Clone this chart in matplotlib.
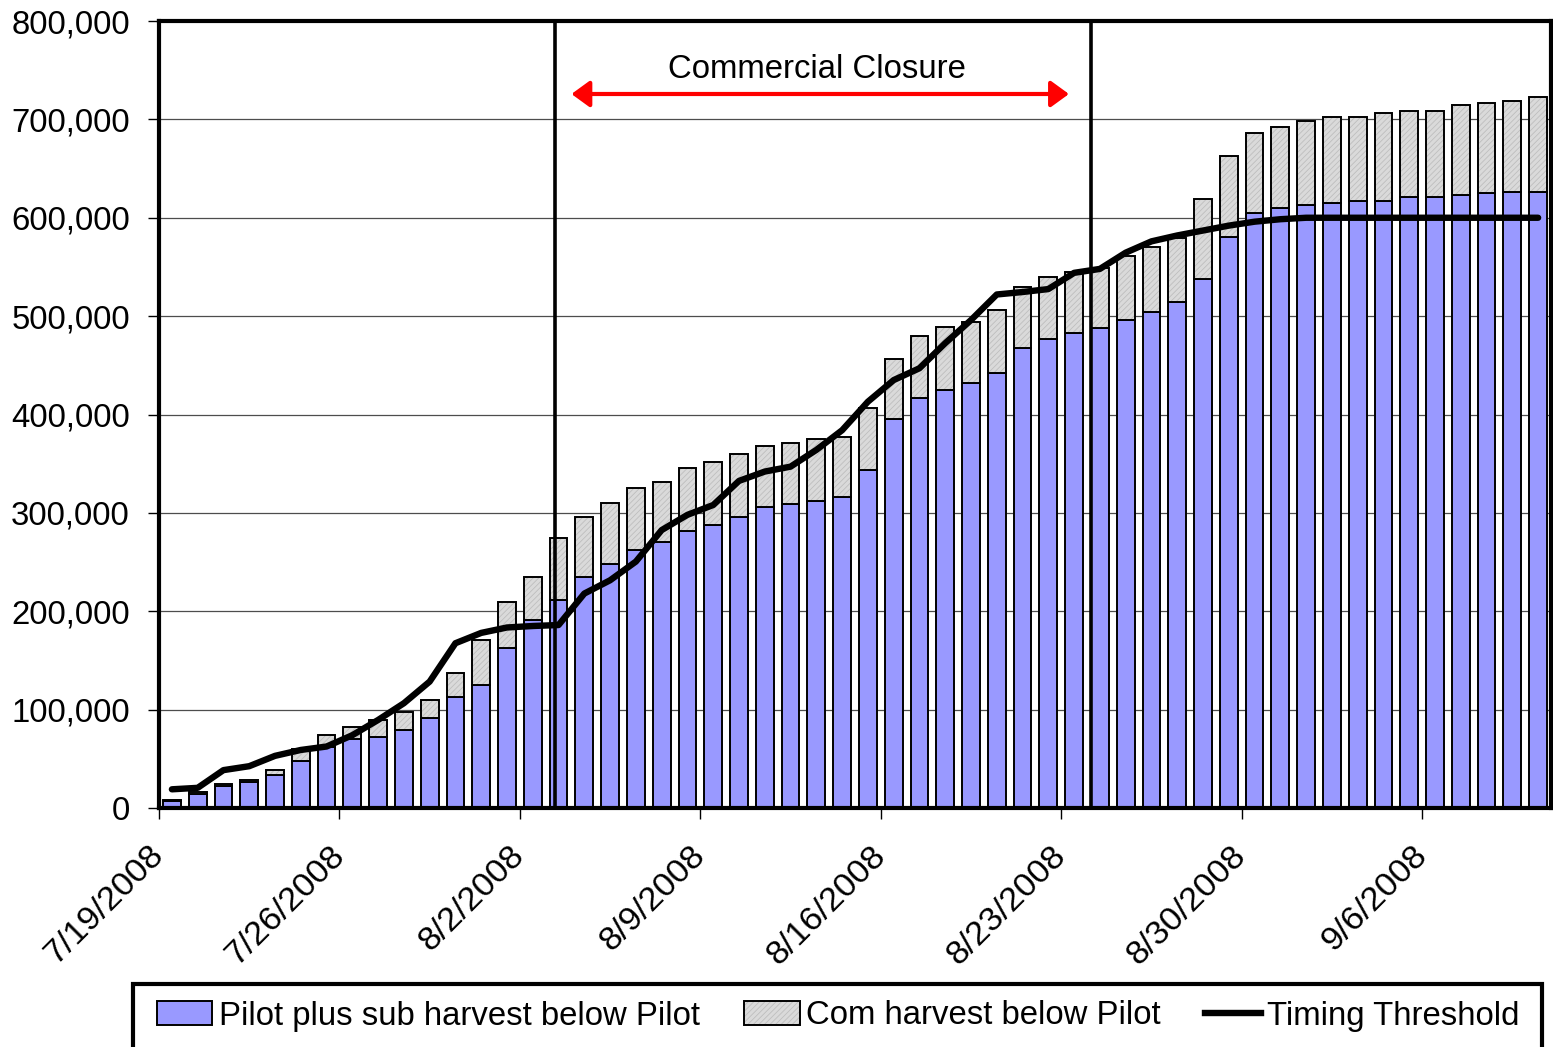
import matplotlib
matplotlib.use('Agg')
import matplotlib.pyplot as plt
from matplotlib.patches import Patch, Rectangle
from matplotlib.lines import Line2D
from matplotlib.legend_handler import HandlerTuple
from matplotlib.ticker import FuncFormatter
from matplotlib.transforms import ScaledTranslation
import numpy as np
import pandas as pd

plt.rcParams['font.family'] = ['Liberation Sans', 'DejaVu Sans']
plt.rcParams['hatch.linewidth'] = 0.6

# ---- data ----
days = pd.date_range('2008-07-19', periods=54, freq='D')

pilot_sub = [7000, 14000, 22500, 26000, 34000, 48000, 62000, 70000, 72000, 79000,
             91000, 113000, 125000, 163000, 191000, 211000, 234500, 248000, 262000, 270000,
             282000, 288000, 296000, 305500, 309500, 312000, 316000, 343500, 395000, 417000,
             425000, 432500, 442500, 468000, 476500, 482500, 488000, 496000, 504500, 514000,
             538000, 580000, 605000, 609500, 613000, 615500, 617000, 617000, 621500, 621500,
             623000, 625000, 626500, 626500]

com_harvest = [1500, 2500, 2000, 2500, 4500, 12000, 12000, 12000, 17500, 18500,
               18500, 24000, 46000, 46000, 43500, 63000, 61500, 62500, 63500, 61500,
               64000, 64000, 64000, 62000, 62000, 63000, 61500, 63000, 61500, 63000,
               63500, 62000, 63500, 62000, 63500, 62500, 61000, 65000, 65500, 65500,
               81500, 82500, 81500, 83000, 85500, 87000, 85500, 89000, 87000, 87000,
               91500, 91500, 92000, 96000]

threshold = [19000, 20500, 38500, 42500, 53000, 59000, 62500, 74000, 89500, 106500,
             128500, 167500, 178000, 183500, 185000, 186000, 218000, 231500, 250500, 282500,
             298000, 308000, 332500, 342000, 347000, 364000, 384000, 413000, 435000, 447000,
             472500, 496000, 522000, 524500, 527500, 544000, 548000, 564500, 576000, 582000,
             587000, 592000, 596000, 598500, 600000, 600000, 600000, 600000, 600000, 600000,
             600000, 600000, 600000, 600000]

tick_labels = ['7/19/2008', '7/26/2008', '8/2/2008', '8/9/2008',
               '8/16/2008', '8/23/2008', '8/30/2008', '9/6/2008']
y_ticks = [0, 100000, 200000, 300000, 400000, 500000, 600000, 700000, 800000]

series_names = ['Pilot plus sub harvest below Pilot', 'Com harvest below Pilot', 'Timing Threshold']
closure_label = 'Commercial Closure'

# ---- figure ----
W, H = 1553, 1047
fs = 23.7
fig = plt.figure(figsize=(W / 100, H / 100), dpi=100)
ax = fig.add_axes([159 / W, 1 - 808 / H, (1551 - 159) / W, (808 - 21) / H])

x = np.arange(len(days))
blue = np.array(pilot_sub)
gray = np.array(com_harvest)

bw = 0.69
blue_c = '#9999FF'
gray_c = '#DADADA'
hatch_c = '#BEBEBE'
line_w = 4.6

ax.bar(x, blue, width=bw, color=blue_c, edgecolor='black', linewidth=1.4, zorder=2)
ax.bar(x, gray, bottom=blue, width=bw, color=gray_c, edgecolor=hatch_c, hatch='//////',
       linewidth=0, zorder=2)
ax.bar(x, gray, bottom=blue, width=bw, fill=False, edgecolor='black', linewidth=1.4, zorder=2.1)

ax.plot(x, threshold, color='black', lw=line_w, zorder=4, solid_capstyle='round',
        solid_joinstyle='round')

# closure lines
ax.axvline(14.85, color='black', lw=2.6, zorder=5)
ax.axvline(35.65, color='black', lw=2.6, zorder=5)

ax.annotate('', xy=(15.5, 725800), xytext=(34.8, 725800),
            arrowprops=dict(arrowstyle='<|-|>,head_length=0.55,head_width=0.4',
                            color='red', lw=3, shrinkA=0, shrinkB=0, mutation_scale=20),
            zorder=6)
ax.text(25.04, 750500, closure_label, ha='center', va='center', fontsize=fs, zorder=6)

ax.set_xlim(-0.5, len(days) - 0.5)
ax.set_ylim(0, 800000)

ax.set_yticks(y_ticks)
ax.yaxis.set_major_formatter(FuncFormatter(lambda v, p: f'{int(v):,}'))
ax.yaxis.grid(True, color='#4d4d4d', lw=0.9)
ax.set_axisbelow(True)

xt = [-0.5 + 7 * k for k in range(len(tick_labels))]
ax.set_xticks(xt)
ax.set_xticklabels(tick_labels, rotation=45, ha='right')

ax.tick_params(axis='y', direction='out', length=8, width=1, pad=13, labelsize=fs)
ax.tick_params(axis='x', direction='out', length=8, width=1, pad=15, labelsize=24.8)

off = ScaledTranslation(11 / 100, 0, fig.dpi_scale_trans)
for lab in ax.get_xticklabels():
    lab.set_transform(lab.get_transform() + off)

for s in ax.spines.values():
    s.set_linewidth(3)
    s.set_color('black')

# legend
handles = [
    Patch(facecolor=blue_c, edgecolor='black', linewidth=1.4),
    (Patch(facecolor=gray_c, edgecolor=hatch_c, hatch='//////', linewidth=0),
     Patch(fill=False, edgecolor='black', linewidth=1.4)),
    Line2D([], [], color='black', lw=line_w),
]
fig.legend(handles, series_names, loc='center left',
           bbox_to_anchor=(157 / W, 1 - 1016 / H), ncol=3, frameon=False, fontsize=fs,
           handlelength=1.68, handleheight=0.72, handletextpad=0.2, columnspacing=1.35,
           borderpad=0, borderaxespad=0,
           handler_map={tuple: HandlerTuple(ndivide=1, pad=0)})
fig.add_artist(Rectangle((133 / W, -0.05), (1542 - 133) / W, (1 - 984 / H) + 0.05,
                         transform=fig.transFigure, fill=False, edgecolor='black',
                         lw=3, clip_on=False))

fig.savefig('out.png', dpi=100)
